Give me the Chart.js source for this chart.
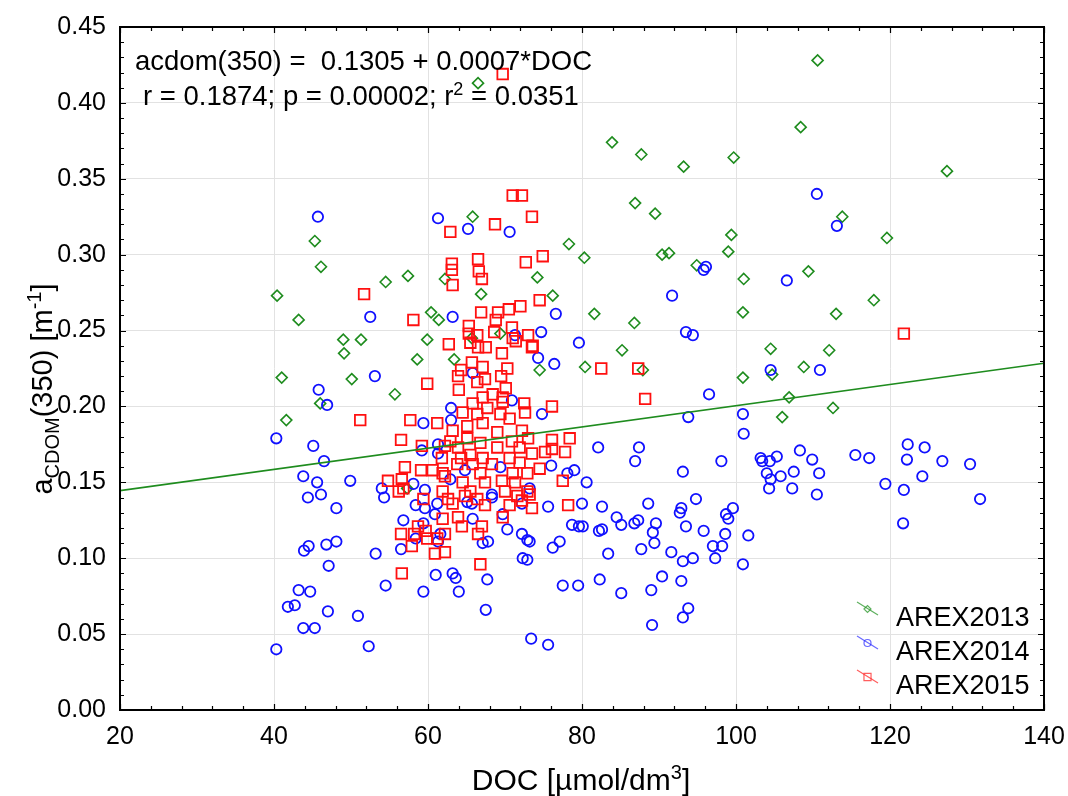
<!DOCTYPE html>
<html>
<head>
<meta charset="utf-8">
<script src="https://cdn.jsdelivr.net/npm/chart.js@4/dist/chart.umd.min.js"></script>
<style>
  html, body { margin: 0; padding: 0; background: #fff; }
</style>
</head>
<body>
<canvas id="myChart" width="1068" height="796"></canvas>
<script>
// data
const doc2013 = [66.5, 110.6, 83.9, 87.7, 93.2, 99.7, 86.9, 89.5, 99.4, 78.3, 80.3, 90.4, 91.3, 99.0, 65.8,
  108.4, 127.4, 113.8, 119.6, 46.1, 40.4, 43.2, 54.5, 57.4, 60.4, 49.0, 51.3, 49.1, 58.6, 59.9, 41.0, 50.1,
  55.7, 46.0, 41.6, 57.3, 45.3, 62.2, 74.2, 66.9, 76.2, 61.4, 81.6, 86.8, 65.7, 69.4, 85.2, 63.4, 74.5, 80.4,
  87.9, 94.9, 101.0, 109.4, 117.9, 100.9, 113.0, 104.5, 112.1, 108.8, 104.7, 100.9, 106.9, 106.0, 112.6];
const acdom2013 = [0.413, 0.428, 0.374, 0.366, 0.358, 0.364, 0.334, 0.327, 0.313, 0.307, 0.298, 0.300, 0.301, 0.302, 0.325,
  0.384, 0.355, 0.325, 0.311, 0.292, 0.273, 0.257, 0.282, 0.286, 0.262, 0.244, 0.244, 0.235, 0.231, 0.244, 0.219, 0.218,
  0.208, 0.202, 0.191, 0.146, 0.309, 0.284, 0.285, 0.274, 0.273, 0.257, 0.261, 0.255, 0.245, 0.248, 0.237, 0.231, 0.224, 0.226,
  0.224, 0.293, 0.284, 0.289, 0.270, 0.262, 0.261, 0.238, 0.237, 0.226, 0.221, 0.219, 0.206, 0.193, 0.199];

const doc2014 = [45.7, 61.3, 65.2, 70.6, 110.5, 113.1, 52.5, 53.1, 45.8, 46.9, 59.4, 40.3, 45.1, 59.2, 46.5, 43.8,
  45.6, 49.9, 54.0, 58.1, 59.6, 46.1, 44.4, 48.1, 54.3, 58.4, 59.6, 56.8, 58.4, 59.4, 43.9, 44.5, 46.8, 48.1,
  53.2, 56.5, 47.1, 43.2, 44.7, 54.5, 59.4, 41.8, 42.7, 47.0, 50.9, 43.8, 45.3, 40.3, 52.3, 80.0, 75.6, 82.6,
  88.6, 92.9, 92.7, 94.8, 98.7, 99.6, 99.0, 84.5, 85.1, 86.8, 87.3, 89.6, 89.2, 89.4, 93.5, 95.8, 98.6, 78.7,
  79.6, 80.1, 82.2, 82.6, 70.3, 72.2, 72.9, 73.2, 77.1, 76.2, 87.7, 91.6, 97.0, 98.2, 83.4, 93.1, 94.4, 97.3,
  100.9, 72.3, 72.9, 61.0, 63.2, 63.6, 67.7, 64.0, 77.5, 79.5, 82.3, 85.1, 89.0, 90.4, 92.9, 93.8, 93.1, 89.1,
  67.5, 73.4, 75.6, 67.1, 67.8, 65.8, 65.1, 65.7, 68.3, 69.7, 61.2, 60.9, 61.3, 61.6, 72.2, 101.6, 121.7, 131.7,
  110.5, 106.6, 104.5, 110.9, 100.9, 101.0, 122.3, 124.5, 108.3, 103.2, 103.4, 104.4, 105.3, 109.9, 115.5, 117.3,
  122.2, 126.8, 130.4, 104.0, 105.8, 107.5, 110.8, 104.5, 104.3, 107.3, 119.4, 121.8, 124.2, 96.1, 95.8, 91.7,
  93.5, 94.4, 79.6, 76.6, 74.7, 74.3, 76.4, 63.2, 71.3, 65.8, 96.5, 93.8, 74.8, 70.9, 63.0, 63.0, 82.1, 87.4,
  86.9, 98.1, 93.1, 80.6, 79.0, 78.1, 64.8, 61.3, 61.3, 62.9, 69.4, 73.2, 68.3, 76.0];
const acdom2014 = [0.325, 0.324, 0.317, 0.315, 0.340, 0.319, 0.259, 0.220, 0.211, 0.201, 0.189, 0.179, 0.174, 0.171, 0.164, 0.154,
  0.150, 0.151, 0.146, 0.149, 0.145, 0.142, 0.140, 0.133, 0.140, 0.135, 0.133, 0.125, 0.113, 0.123, 0.105, 0.108, 0.109, 0.111,
  0.103, 0.106, 0.095, 0.079, 0.078, 0.082, 0.078, 0.068, 0.069, 0.065, 0.062, 0.054, 0.054, 0.040, 0.042, 0.136, 0.134, 0.134,
  0.136, 0.133, 0.130, 0.139, 0.129, 0.133, 0.126, 0.127, 0.122, 0.123, 0.125, 0.123, 0.117, 0.110, 0.121, 0.118, 0.116, 0.122,
  0.121, 0.121, 0.118, 0.119, 0.119, 0.116, 0.112, 0.111, 0.111, 0.107, 0.106, 0.104, 0.108, 0.108, 0.103, 0.098, 0.100, 0.100,
  0.096, 0.100, 0.099, 0.089, 0.090, 0.087, 0.086, 0.078, 0.082, 0.082, 0.086, 0.077, 0.079, 0.088, 0.085, 0.067, 0.061, 0.056,
  0.066, 0.047, 0.043, 0.110, 0.111, 0.126, 0.137, 0.136, 0.140, 0.129, 0.136, 0.129, 0.111, 0.116, 0.136, 0.115, 0.123, 0.139,
  0.142, 0.283, 0.224, 0.224, 0.195, 0.182, 0.175, 0.173, 0.171, 0.166, 0.164, 0.164, 0.167, 0.165, 0.168, 0.166,
  0.165, 0.164, 0.162, 0.156, 0.154, 0.157, 0.156, 0.152, 0.146, 0.146, 0.149, 0.145, 0.154, 0.292, 0.290, 0.273,
  0.249, 0.247, 0.242, 0.261, 0.249, 0.232, 0.228, 0.259, 0.247, 0.222, 0.208, 0.193, 0.195, 0.204, 0.199, 0.191, 0.173, 0.173,
  0.164, 0.164, 0.157, 0.150, 0.158, 0.156, 0.158, 0.175, 0.169, 0.152, 0.160, 0.146, 0.142, 0.161];

const doc2015 = [69.7, 71.0, 72.2, 73.5, 68.7, 62.9, 74.9, 66.5, 72.7, 63.1, 51.7, 58.1, 59.9, 51.2, 57.7, 56.5,
  59.2, 57.0, 59.1, 54.8, 56.6, 56.8, 56.5, 57.9, 56.6, 58.2, 59.4, 58.7, 59.7, 59.9, 56.2, 78.2, 66.8, 60.9,
  62.2, 66.5, 67.0, 64.4, 62.2, 61.2, 61.9, 63.9, 62.6, 64.8, 66.4, 67.4, 69.7, 70.6, 71.6, 73.2, 73.5, 72.2,
  63.2, 63.1, 66.6, 67.0, 63.2, 74.5, 72.0, 70.5, 69.1, 66.9, 68.8, 65.3, 68.6, 70.9, 66.4, 65.3, 73.0, 71.0,
  62.7, 65.5, 66.5, 67.5, 71.4, 73.5, 69.6, 65.7, 67.1, 64.3, 70.3, 63.9, 66.4, 67.4, 69.5, 64.0, 70.1, 68.4,
  67.1, 69.7, 76.1, 72.5, 65.8, 67.7, 69.7, 64.5, 66.4, 69.4, 72.6, 70.6, 61.2, 65.1, 67.1, 63.2, 69.0, 72.2,
  76.1, 78.4, 65.1, 66.8, 70.9, 73.0, 62.2, 63.9, 69.0, 71.9, 75.2, 76.1, 77.8, 61.8, 65.5, 67.1, 70.6, 73.5,
  63.8, 65.8, 68.3, 71.9, 74.5, 77.5, 60.6, 62.2, 66.8, 71.0, 72.9, 64.5, 67.4, 69.6, 71.3, 61.9, 65.5, 70.0,
  72.9, 121.8, 82.5, 87.3, 88.2, 73.6, 62.9, 64.3, 61.9];
const acdom2015 = [0.419, 0.339, 0.339, 0.325, 0.320, 0.315, 0.299, 0.297, 0.295, 0.294, 0.274, 0.257, 0.215, 0.191, 0.191, 0.178,
  0.174, 0.160, 0.158, 0.151, 0.152, 0.146, 0.116, 0.108, 0.090, 0.116, 0.139, 0.121, 0.118, 0.113, 0.144, 0.135, 0.096, 0.103,
  0.104, 0.116, 0.121, 0.121, 0.116, 0.113, 0.126, 0.127, 0.139, 0.141, 0.139, 0.135, 0.127, 0.135, 0.141, 0.142, 0.133, 0.138,
  0.136, 0.290, 0.289, 0.284, 0.280, 0.270, 0.266, 0.264, 0.262, 0.262, 0.257, 0.253, 0.249, 0.252, 0.247, 0.248, 0.247, 0.245,
  0.241, 0.242, 0.239, 0.239, 0.243, 0.239, 0.235, 0.229, 0.226, 0.224, 0.225, 0.220, 0.216, 0.218, 0.220, 0.211, 0.212, 0.208,
  0.206, 0.206, 0.200, 0.202, 0.202, 0.199, 0.203, 0.196, 0.195, 0.195, 0.196, 0.192, 0.189, 0.187, 0.189, 0.184, 0.183, 0.184,
  0.178, 0.179, 0.179, 0.176, 0.177, 0.179, 0.174, 0.173, 0.173, 0.173, 0.170, 0.172, 0.170, 0.166, 0.168, 0.166, 0.166, 0.169,
  0.162, 0.162, 0.162, 0.163, 0.159, 0.151, 0.158, 0.154, 0.156, 0.156, 0.156, 0.150, 0.150, 0.151, 0.150, 0.144, 0.144, 0.144,
  0.144, 0.248, 0.225, 0.225, 0.205, 0.240, 0.177, 0.166, 0.156];

// regression from the figure text
const fitIntercept = 0.1305;
const fitSlope = 0.0007;
const fitRange = [20, 140];

const seriesNames = ["AREX2013", "AREX2014", "AREX2015"];
const seriesColors = ["#1e8c1e", "#1010ff", "#ff1010"];
const legendColors = ["rgba(40,150,40,0.75)", "rgba(40,40,255,0.7)", "rgba(255,40,40,0.75)"];

const FONT = '"Liberation Sans", Arial, sans-serif';

function pairs(xs, ys) {
  return xs.map((x, i) => ({ x: x, y: ys[i] }));
}

// draws text made of pieces: [text, size, dy]
function drawPieces(ctx, parts, x, y, align) {
  let total = 0;
  parts.forEach(p => {
    ctx.font = p[1] + "px " + FONT;
    p.w = ctx.measureText(p[0]).width;
    total += p.w;
  });
  let cx = align === "center" ? x - total / 2 : x;
  parts.forEach(p => {
    ctx.font = p[1] + "px " + FONT;
    ctx.fillText(p[0], cx, y + p[2]);
    cx += p.w;
  });
}

const decor = {
  id: "decor",
  afterDraw(chart) {
    const ctx = chart.ctx;
    const a = chart.chartArea;
    const xs = chart.scales.x, ys = chart.scales.y;
    ctx.save();

    // frame + inward ticks
    ctx.strokeStyle = "#000";
    ctx.lineWidth = 2;
    ctx.strokeRect(a.left, a.top, a.right - a.left, a.bottom - a.top);
    ctx.lineWidth = 1.2;
    ctx.beginPath();
    for (let v = 0; v <= 45; v++) {
      const py = Math.round(ys.getPixelForValue(v / 100)) + 0.5;
      const len = v % 5 === 0 ? 6 : 4;
      ctx.moveTo(a.left, py); ctx.lineTo(a.left + len, py);
      ctx.moveTo(a.right, py); ctx.lineTo(a.right - len, py);
    }
    for (let v = 20; v <= 140; v += 4) {
      const px = Math.round(xs.getPixelForValue(v)) + 0.5;
      const len = v % 20 === 0 ? 6 : 4;
      ctx.moveTo(px, a.bottom); ctx.lineTo(px, a.bottom - len);
      ctx.moveTo(px, a.top); ctx.lineTo(px, a.top + len);
    }
    ctx.stroke();

    // equation text
    ctx.fillStyle = "#000";
    ctx.textBaseline = "alphabetic";
    drawPieces(ctx, [["acdom(350) =  0.1305 + 0.0007*DOC", 27.5, 0]], 135, 70, "left");
    drawPieces(ctx, [["r = 0.1874; p = 0.00002; r", 27.5, 0], ["2", 18, -10], [" = 0.0351", 27.5, 0]], 143, 105, "left");

    // axis titles
    drawPieces(ctx, [["DOC [µmol/dm", 30, 0], ["3", 20, -11], ["]", 30, 0]], 581, 790, "center");
    ctx.save();
    ctx.translate(52, 389);
    ctx.rotate(-Math.PI / 2);
    drawPieces(ctx, [["a", 29, 0], ["CDOM", 20, 7], ["(350) [m", 29, 0], ["-1", 20, -11], ["]", 29, 0]], 0, 0, "center");
    ctx.restore();

    // legend
    seriesNames.forEach((name, i) => {
      const base = 626 + i * 34;
      const cy = base - 17;
      ctx.strokeStyle = legendColors[i];
      ctx.fillStyle = "rgba(0,0,0,0)";
      ctx.lineWidth = 1.2;
      ctx.beginPath();
      ctx.moveTo(857, cy - 7);
      ctx.lineTo(878, cy + 6);
      ctx.stroke();
      const style = i === 0 ? "rectRot" : (i === 1 ? "circle" : "rect");
      Chart.helpers.drawPoint(ctx, { pointStyle: style, radius: i === 2 ? 5 : 3.5, borderWidth: 1.2 }, 867.5, cy);
      ctx.fillStyle = "#000";
      ctx.font = "27px " + FONT;
      ctx.fillText(name, 896, base);
    });
    ctx.restore();
  }
};

const scatterBase = {
  showLine: false,
  backgroundColor: "rgba(0,0,0,0)",
  borderWidth: 1.8
};

new Chart(document.getElementById("myChart"), {
  type: "scatter",
  data: {
    datasets: [
      {
        type: "line",
        label: "fit",
        data: fitRange.map(x => ({ x: x, y: fitIntercept + fitSlope * x })),
        borderColor: "#1e8c1e",
        borderWidth: 1.6,
        pointRadius: 0,
        showLine: true,
        fill: false,
        order: 0
      },
      Object.assign({}, scatterBase, {
        label: seriesNames[2],
        data: pairs(doc2015, acdom2015),
        borderColor: seriesColors[2],
        pointStyle: "rect",
        pointRadius: 7.5,
        order: 1
      }),
      Object.assign({}, scatterBase, {
        label: seriesNames[1],
        data: pairs(doc2014, acdom2014),
        borderColor: seriesColors[1],
        pointStyle: "circle",
        pointRadius: 5.2,
        order: 2
      }),
      Object.assign({}, scatterBase, {
        label: seriesNames[0],
        data: pairs(doc2013, acdom2013),
        borderColor: seriesColors[0],
        borderWidth: 1.6,
        pointStyle: "rectRot",
        pointRadius: 5.5,
        order: 3
      })
    ]
  },
  options: {
    responsive: false,
    animation: false,
    layout: { padding: { left: 0, top: 27, right: 24, bottom: 0 } },
    plugins: { legend: { display: false }, tooltip: { enabled: false } },
    scales: {
      x: {
        type: "linear",
        min: 20, max: 140,
        afterFit(s) { s.height = 86; s.paddingLeft = 0; s.paddingRight = 0; },
        border: { display: false },
        grid: { color: "#e2e2e2", lineWidth: 1, drawTicks: false },
        ticks: { stepSize: 20, padding: 12, color: "#000", font: { family: FONT, size: 25 } }
      },
      y: {
        min: 0, max: 0.45,
        afterFit(s) { s.width = 120; s.paddingTop = 0; s.paddingBottom = 0; },
        border: { display: false },
        grid: { color: "#e2e2e2", lineWidth: 1, drawTicks: false },
        ticks: {
          stepSize: 0.05, padding: 14, color: "#000", font: { family: FONT, size: 25 },
          callback: v => v.toFixed(2)
        }
      }
    }
  },
  plugins: [decor]
});
</script>
</body>
</html>
